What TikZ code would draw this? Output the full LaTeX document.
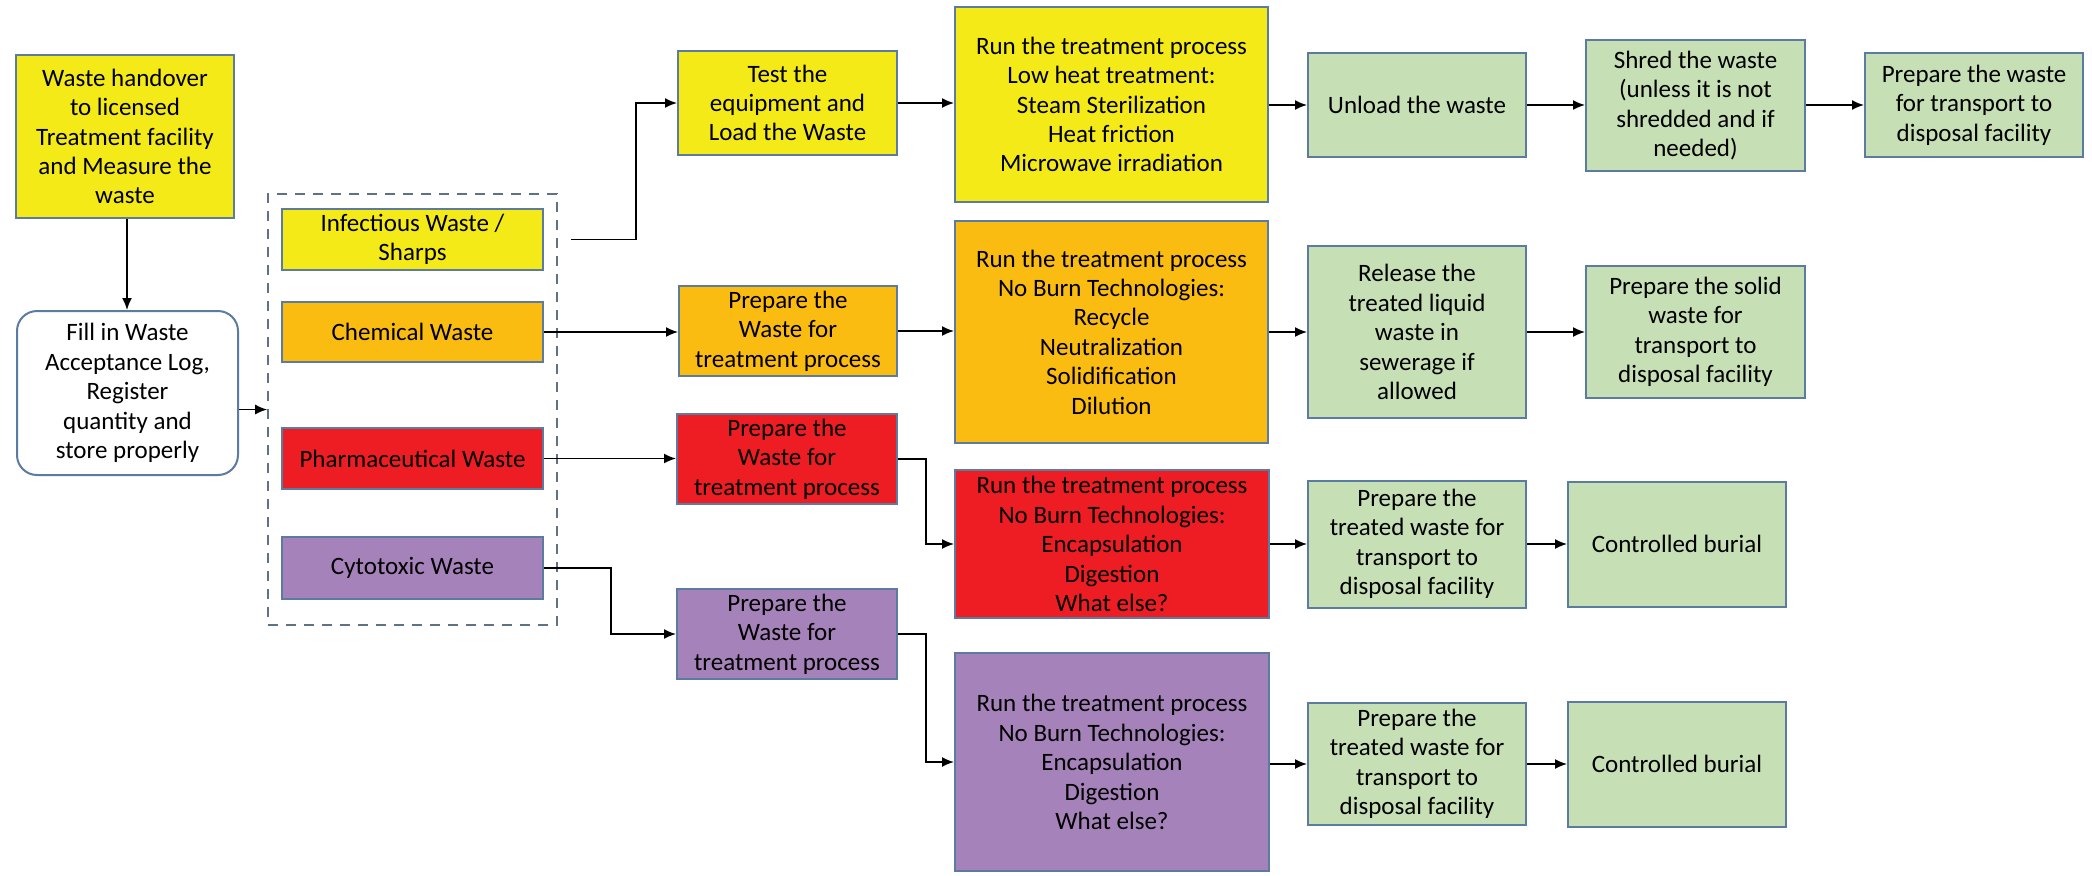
\documentclass[tikz,border=0pt]{standalone}
\usepackage{fontspec}
\setmainfont{Carlito}
\usetikzlibrary{arrows.meta}
\definecolor{yel}{HTML}{F4EA17}
\definecolor{org}{HTML}{FBBC12}
\definecolor{rd}{HTML}{EE1D24}
\definecolor{pur}{HTML}{A682BA}
\definecolor{grn}{HTML}{C6DFB5}
\definecolor{bord}{HTML}{5B7BA0}
\definecolor{dashcol}{HTML}{5F7186}
\tikzset{
  box/.style={draw=bord, line width=1pt, align=center, inner sep=2pt,
    font={\fontsize{12.5pt}{14.7pt}\selectfont}},
  arr/.style={line width=0.8pt, -{Latex[length=6pt,width=5pt]}},
  plain/.style={line width=0.8pt},
  grp/.style={draw=dashcol, line width=0.8pt, dash pattern=on 5pt off 4pt}
}
\begin{document}
\begin{tikzpicture}[x=0.5pt,y=-0.5pt]
\useasboundingbox[fill=white] (0,0) rectangle (2092,875);

% left column
\node[box, fill=yel, minimum width=109pt, minimum height=81.5pt] (wh) at (125,136.5)
  {Waste handover\\to licensed\\Treatment facility\\and Measure the\\waste};
\node[box, fill=white, rounded corners=10pt, minimum width=110.5pt, minimum height=82pt] (fill) at (127.5,393)
  {Fill in Waste\\Acceptance Log,\\Register\\quantity and\\store properly};

% waste group
\node[grp, minimum width=144.5pt, minimum height=215.5pt, inner sep=0pt] (group) at (412.5,409.5) {};
\node[box, fill=yel, minimum width=130.5pt, minimum height=30.5pt] (inf) at (412.5,239.5) {Infectious Waste /\\Sharps};
\node[box, fill=org, minimum width=130.5pt, minimum height=30pt] (chem) at (412.5,332) {Chemical Waste};
\node[box, fill=rd, minimum width=130.5pt, minimum height=30.5pt] (pharm) at (412.5,458.5) {Pharmaceutical Waste};
\node[box, fill=pur, minimum width=130.5pt, minimum height=31pt] (cyto) at (412.5,568) {Cytotoxic Waste};

% preparation column
\node[box, fill=yel, minimum width=109.5pt, minimum height=52pt] (test) at (787.5,103) {Test the\\equipment and\\Load the Waste};
\node[box, fill=org, minimum width=109pt, minimum height=45pt] (prepC) at (788,331) {Prepare the\\Waste for\\treatment process};
\node[box, fill=rd, minimum width=110pt, minimum height=45pt] (prepP) at (787,459) {Prepare the\\Waste for\\treatment process};
\node[box, fill=pur, minimum width=110pt, minimum height=45pt] (prepY) at (787,634) {Prepare the\\Waste for\\treatment process};

% treatment column
\node[box, fill=yel, minimum width=156.5pt, minimum height=97.5pt] (run1) at (1111.5,104.5)
  {Run the treatment process\\Low heat treatment:\\Steam Sterilization\\Heat friction\\Microwave irradiation};
\node[box, fill=org, minimum width=156.5pt, minimum height=111pt] (run2) at (1111.5,332)
  {Run the treatment process\\No Burn Technologies:\\Recycle\\Neutralization\\Solidification\\Dilution};
\node[box, fill=rd, minimum width=157pt, minimum height=74pt] (run3) at (1112,544)
  {Run the treatment process\\No Burn Technologies:\\Encapsulation\\Digestion\\What else?};
\node[box, fill=pur, minimum width=157pt, minimum height=109pt] (run4) at (1112,762)
  {Run the treatment process\\No Burn Technologies:\\Encapsulation\\Digestion\\What else?};

% after-treatment boxes
\node[box, fill=grn, minimum width=109pt, minimum height=52pt] (unload) at (1417,105) {Unload the waste};
\node[box, fill=grn, minimum width=109.5pt, minimum height=65.5pt] (shred) at (1695.5,105.5)
  {Shred the waste\\(unless it is not\\shredded and if\\needed)};
\node[box, fill=grn, minimum width=109pt, minimum height=52pt] (prepT) at (1974,105)
  {Prepare the waste\\for transport to\\disposal facility};
\node[box, fill=grn, minimum width=109pt, minimum height=86pt] (release) at (1417,332)
  {Release the\\treated liquid\\waste in\\sewerage if\\allowed};
\node[box, fill=grn, minimum width=109.5pt, minimum height=66pt] (solid) at (1695.5,332)
  {Prepare the solid\\waste for\\transport to\\disposal facility};
\node[box, fill=grn, minimum width=109pt, minimum height=63.5pt] (prepR) at (1417,544)
  {Prepare the\\treated waste for\\transport to\\disposal facility};
\node[box, fill=grn, minimum width=109pt, minimum height=62.5pt] (burR) at (1677,544)
  {Controlled burial};
\node[box, fill=grn, minimum width=109pt, minimum height=61pt] (prepV) at (1417,764)
  {Prepare the\\treated waste for\\transport to\\disposal facility};
\node[box, fill=grn, minimum width=109pt, minimum height=62.5pt] (burV) at (1677,764)
  {Controlled burial};

% bend coordinates
\coordinate (infout) at (571,239.5);
\coordinate (infbend) at (636,239.5);
\coordinate (cybend) at (611,568);
\coordinate (pbend) at (926,459);
\coordinate (ybend) at (926,634);

% connectors
\draw[arr] (wh.south -| 127,0) -- (fill.north -| 127,0);
\draw[arr] (fill.east |- group.west) -- (group.west);
\draw[plain] (infout) -- (infbend);
\draw[arr] (infbend) |- (test.west);
\draw[arr] (chem.east) -- (prepC.west |- chem.east);
\draw[arr] (pharm.east) -- (prepP.west |- pharm.east);
\draw[arr] (cyto.east) -- (cybend) |- (prepY.west);
\draw[arr] (test.east) -- (run1.west |- test.east);
\draw[arr] (prepC.east) -- (run2.west |- prepC.east);
\draw[arr] (prepP.east) -- (pbend) |- (run3.west);
\draw[arr] (prepY.east) -- (ybend) |- (run4.west);
\draw[arr] (run1.east |- unload.west) -- (unload.west);
\draw[arr] (unload.east) -- (shred.west |- unload.east);
\draw[arr] (shred.east |- prepT.west) -- (prepT.west);
\draw[arr] (run2.east |- release.west) -- (release.west);
\draw[arr] (release.east) -- (solid.west |- release.east);
\draw[arr] (run3.east |- prepR.west) -- (prepR.west);
\draw[arr] (prepR.east) -- (burR.west |- prepR.east);
\draw[arr] (run4.east |- prepV.west) -- (prepV.west);
\draw[arr] (prepV.east) -- (burV.west |- prepV.east);
\end{tikzpicture}
\end{document}
